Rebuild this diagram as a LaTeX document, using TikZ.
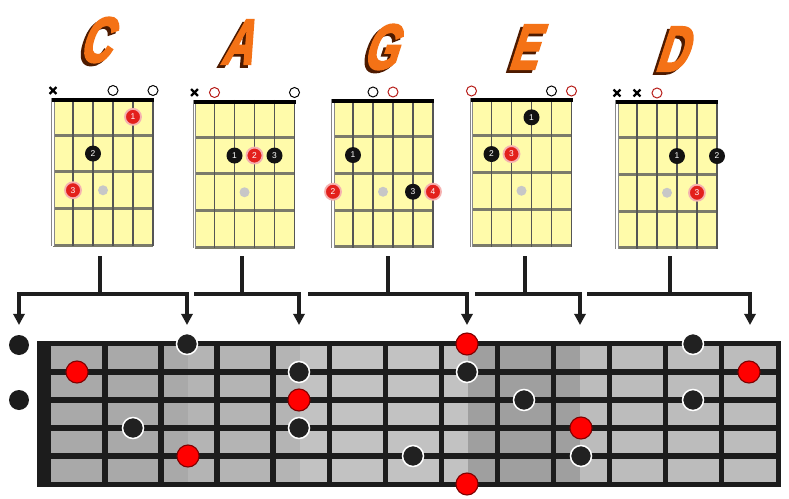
\documentclass[tikz,border=0pt]{standalone}
\usepackage{fontspec}
\setmainfont{Liberation Sans}
\newfontfamily\titlefont{Liberation Sans}[BoldFeatures={FakeBold=4}]
\usetikzlibrary{arrows.meta}
\definecolor{chordyellow}{HTML}{FFFBAA}
\definecolor{fretgray}{HTML}{7B7B6B}
\definecolor{strgray}{HTML}{555555}
\definecolor{chordred}{HTML}{E3201C}
\definecolor{titleorange}{HTML}{F47216}
\definecolor{titleshadow}{HTML}{4D1A00}
\definecolor{fbblack}{HTML}{1C1C1C}
\definecolor{zoneA}{HTML}{A9A9A9}
\definecolor{zoneB}{HTML}{B4B4B4}
\definecolor{zoneC}{HTML}{C2C2C2}
\definecolor{zoneD}{HTML}{9F9F9F}
\definecolor{zoneE}{HTML}{BCBCBC}
\definecolor{connblack}{HTML}{1E1E1E}
\definecolor{ringred}{HTML}{800000}
\newcommand{\chordgrid}[1]{%
  \fill[chordyellow] (0,0) rectangle (100,148);
  \foreach \k in {1,...,4} \draw[fretline] (0,{36.7*\k+0.5}) -- (100,{36.7*\k+0.5});
  \foreach \s in {1,...,5} \draw[stringline] ({20*\s},0) -- ({20*\s},148);
  \draw[strgray!70, line width=2.2pt] (0,0) -- (0,148);
  \draw[white, line width=1.1pt] (0,0) -- (0,148);
  \fill[black] (-1,0) rectangle (101,3.6);
  \node[markdot] (#1-m) at (50,{36.7*2.5+0.5}) {};
}
\newcommand{\fing}[5]{\node[#4] (#1) at ({20*(#2-1)},{36.7*(#3-0.5)+0.5}) {#5};}
\newcommand{\openmark}[3]{\node[#3] (#1) at ({20*(#2-1)},-7.5) {};}
\newcommand{\mutemark}[1]{\draw[mutex] ({20*(#1-1)-3.4},-10.9) -- ++(6.8,6.8) ({20*(#1-1)-3.4},-4.1) -- ++(6.8,-6.8);}
\newcommand{\titleletter}[3]{%
  \begin{scope}[shift={(#2)}, xslant=0.32, xscale=0.68, transform shape]
    \node[titletext, text=titleshadow] (#1-s) at (-3.8,2.8) {#3};
    \node[titletext, text=titleorange] (#1) at (0,0) {#3};
  \end{scope}}
\begin{document}
\begin{tikzpicture}[x=0.025cm, y=-0.025cm,
  fretline/.style={fretgray, line width=2.2pt},
  stringline/.style={strgray, line width=1.1pt},
  markdot/.style={circle, fill=black!22, minimum size={10*0.025cm}, inner sep=0pt},
  fdot/.style={circle, fill=black!93, minimum size={16*0.025cm}, inner sep=0pt, text=white, font=\fontsize{6}{6}\selectfont},
  rdot/.style={fdot, fill=chordred, draw=chordred!35, line width=1.3pt},
  openblack/.style={circle, draw=black, line width=0.7pt, fill=white, minimum size={10*0.025cm}, inner sep=0pt},
  openred/.style={circle, draw=chordred!80!black, line width=0.7pt, fill=white, minimum size={10*0.025cm}, inner sep=0pt},
  mutex/.style={black, line width=1.6pt},
  titletext/.style={font=\titlefont\fontsize{45}{45}\selectfont\bfseries, inner sep=0pt},
  conn/.style={connblack, line width=2.5pt},
  arr/.tip={Triangle[width=8pt, length=8pt]},
  bdot/.style={circle, fill=black!87, draw=white, line width=1.1pt, minimum size={21*0.025cm}, inner sep=0pt},
  rbdot/.style={circle, fill=red, draw=ringred, line width=0.8pt, minimum size={22*0.025cm}, inner sep=0pt},
  sidedot/.style={circle, fill=fbblack, minimum size={20*0.025cm}, inner sep=0pt}]
\useasboundingbox (0,0) rectangle (789,499);
\fill[white] (0,0) rectangle (789,499);

% titles
\titleletter{tC}{101,40}{C}
\titleletter{tA}{243,42}{A}
\titleletter{tG}{386,47}{G}
\titleletter{tE}{529,47}{E}
\titleletter{tD}{677,49}{D}

% C chord
\begin{scope}[shift={(53,98)}]
  \chordgrid{C}
  \mutemark{1}
  \openmark{C-o4}{4}{openblack}
  \openmark{C-o6}{6}{openblack}
  \fing{C-1}{5}{1}{rdot}{1}
  \fing{C-2}{3}{2}{fdot}{2}
  \fing{C-3}{2}{3}{rdot}{3}
\end{scope}
% A chord
\begin{scope}[shift={(194.5,100)}]
  \chordgrid{A}
  \mutemark{1}
  \openmark{A-o2}{2}{openred}
  \openmark{A-o6}{6}{openblack}
  \fing{A-1}{3}{2}{fdot}{1}
  \fing{A-2}{4}{2}{rdot}{2}
  \fing{A-3}{5}{2}{fdot}{3}
\end{scope}
% G chord
\begin{scope}[shift={(333,99.5)}]
  \chordgrid{G}
  \openmark{G-o3}{3}{openblack}
  \openmark{G-o4}{4}{openred}
  \fing{G-1}{2}{2}{fdot}{1}
  \fing{G-2}{1}{3}{rdot}{2}
  \fing{G-3}{5}{3}{fdot}{3}
  \fing{G-4}{6}{3}{rdot}{4}
\end{scope}
% E chord
\begin{scope}[shift={(471.5,98.5)}]
  \chordgrid{E}
  \openmark{E-o1}{1}{openred}
  \openmark{E-o5}{5}{openblack}
  \openmark{E-o6}{6}{openred}
  \fing{E-1}{4}{1}{fdot}{1}
  \fing{E-2}{2}{2}{fdot}{2}
  \fing{E-3}{3}{2}{rdot}{3}
\end{scope}
% D chord
\begin{scope}[shift={(617,100.5)}]
  \chordgrid{D}
  \mutemark{1}
  \mutemark{2}
  \openmark{D-o3}{3}{openred}
  \fing{D-1}{4}{2}{fdot}{1}
  \fing{D-2}{6}{2}{fdot}{2}
  \fing{D-3}{5}{3}{rdot}{3}
\end{scope}

% connectors
\coordinate (cT) at (100,256);  \coordinate (cJ) at (100,294);
\coordinate (aT) at (242,256);  \coordinate (aL) at (194,294);
\coordinate (gT) at (388,256);  \coordinate (gL) at (308,294);
\coordinate (eT) at (525,256);  \coordinate (eL) at (475,294);
\coordinate (dT) at (670,256);  \coordinate (dL) at (587,294);
\coordinate (p0) at (19,325);
\coordinate (p1) at (187,325);
\coordinate (p2) at (299,325);
\coordinate (p3) at (467,325);
\coordinate (p4) at (580,325);
\coordinate (p5) at (750,325);
\draw[conn] (cT) -- (cJ);
\draw[conn, arr-arr] (p0) -- (p0 |- cJ) -- (p1 |- cJ) -- (p1);
\draw[conn] (aT) -- (aT |- aL);
\draw[conn, -arr] (aL) -- (p2 |- aL) -- (p2);
\draw[conn] (gT) -- (gT |- gL);
\draw[conn, -arr] (gL) -- (p3 |- gL) -- (p3);
\draw[conn] (eT) -- (eT |- eL);
\draw[conn, -arr] (eL) -- (p4 |- eL) -- (p4);
\draw[conn] (dT) -- (dT |- dL);
\draw[conn, -arr] (dL) -- (p5 |- dL) -- (p5);

% fretboard
\fill[fbblack] (37,341) rectangle (781,487);
\fill[zoneA] (50.5,346) rectangle (188,482);
\fill[zoneB] (188,346) rectangle (300,482);
\fill[zoneC] (300,346) rectangle (468,482);
\fill[zoneD] (468,346) rectangle (580,482);
\fill[zoneE] (580,346) rectangle (775.5,482);
\foreach \k in {0,...,11} \fill[fbblack] ({102.3+56.05*\k},346) rectangle ({107.8+56.05*\k},482);
\foreach \y in {372,400,428,456} \fill[fbblack] (50,{\y-3}) rectangle (776,{\y+3});

\node[sidedot] (s1) at (19,345) {};
\node[sidedot] (s2) at (19,400) {};

\node[rbdot] (f1) at (77,372) {};
\node[bdot]  (f2) at (187,344) {};
\node[bdot]  (f3) at (133,428) {};
\node[rbdot] (f4) at (188,456) {};
\node[bdot]  (f5) at (299,372) {};
\node[rbdot] (f6) at (299,400) {};
\node[bdot]  (f7) at (299,428) {};
\node[rbdot] (f8) at (467,344) {};
\node[bdot]  (f9) at (467,372) {};
\node[bdot]  (f10) at (413,456) {};
\node[rbdot] (f11) at (467,484) {};
\node[bdot]  (f12) at (524,400) {};
\node[rbdot] (f13) at (581,428) {};
\node[bdot]  (f14) at (581,456) {};
\node[bdot]  (f15) at (693,344) {};
\node[bdot]  (f16) at (693,400) {};
\node[rbdot] (f17) at (749,372) {};
\end{tikzpicture}
\end{document}
